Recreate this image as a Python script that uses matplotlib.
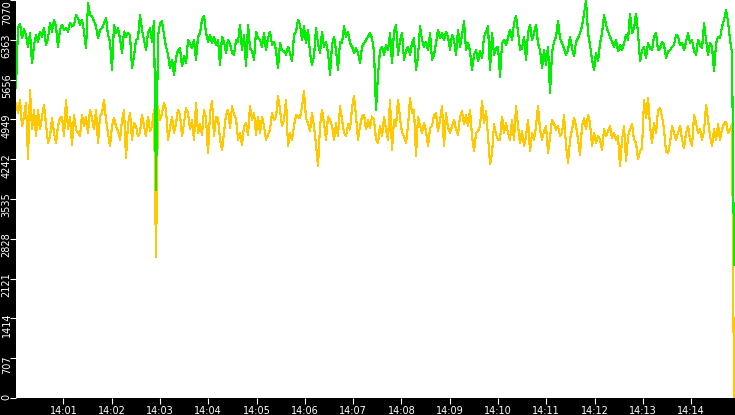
import matplotlib
matplotlib.use('Agg')
import matplotlib.pyplot as plt
import matplotlib.dates as mdates
import matplotlib.transforms as mtransforms
import pandas as pd

start_time = '2024-01-01 14:00:01.2'
end_time = '2024-01-01 14:14:53.2'
view_end = '2024-01-01 14:14:54.4'

green_values = [
    5500, 6570, 6650, 6390, 6550, 6450, 6240, 6480, 5950, 6270,
    6450, 6330, 6510, 6420, 6570, 6270, 6390, 6660, 6510, 6720,
    6600, 6240, 6540, 6630, 6540, 6570, 6510, 6660, 6600, 6630,
    6800, 6750, 6630, 6720, 6510, 6210, 7010, 6800, 6780, 6690,
    6600, 6390, 6540, 6570, 6660, 6750, 6450, 6330, 5830, 6630,
    6480, 6570, 6390, 6130, 6510, 6420, 6480, 6450, 5860, 6070,
    6360, 6390,
    6800, 6540, 6360, 6180, 6480, 6570, 6330, 6690, 3700, 6420,
    6660, 6690, 6450, 6240, 6100, 5860, 6010, 5740, 6040, 6180,
    6210, 5890, 6070, 5950, 6360, 6300, 6210, 6360, 6010, 6420,
    6480, 6720, 6780, 6480, 6330, 6450, 6300, 6420, 6270, 6360,
    5920, 6420, 6330, 6130, 6360, 6300, 6130, 6100, 6360, 6330,
    6630, 6180, 6450, 5890, 6630, 6210, 6160, 6010, 6510, 6390,
    6360, 6240, 6480, 6180, 6390, 6510, 6270, 6330, 6180, 5860,
    6300, 6180, 6160, 6100, 6240, 6130, 5980, 6450, 6510, 6720,
    6630, 6360, 6600, 6300, 6540, 6130, 5920, 6070, 6570, 6300,
    6130, 6510, 6240, 6330, 6130, 5740, 6270, 6420, 6180, 5830,
    6330, 6300, 6600, 6420, 6510, 6300, 6240, 6130, 6210, 6130,
    5950, 6240, 6300, 6360, 6420, 6480, 6390, 6160, 5120, 5740,
    6180, 6240, 6100, 6270, 6180, 6480, 5950, 6510, 6630, 6100,
    6360, 6480, 6010, 6160, 6240, 6100, 6300, 6390, 5830, 6070,
    6600, 6360, 6240, 6330, 6180, 6480, 6010, 6100, 6300, 6540,
    6390, 6480, 6360, 6510, 6420, 6180, 6450, 6360, 6100, 6540,
    6240, 6450, 6690, 6180, 6300, 6160, 5830, 6100, 6180, 5980,
    6160, 6040, 6420, 6510, 6600, 5830, 6480, 6100, 6210, 6240,
    5710, 6300, 6360, 6270, 6390, 6540, 6360, 6660, 6780, 6510,
    6180, 6210, 6420, 6010, 6480, 6630, 6360, 6480, 6630, 6300,
    6180, 5860, 6180, 5920, 6240, 5420, 6130, 6330, 6420, 6690,
    6390, 6300, 6210, 6100, 6180, 6420, 6210, 6070, 6330, 6390,
    6480, 6600, 6830, 7060, 6480, 6270, 6010, 5830, 6130, 5980,
    6300, 6480, 6800, 6630, 6510, 6420, 6330, 6240, 6360, 6160,
    6270, 6180, 6300, 6450, 6360, 6830, 6480, 6570, 6830, 6480,
    5980, 6180, 6240, 6040, 6300, 6210, 6180, 6420, 6480, 6180,
    6210, 6330, 6270, 6040, 6160, 6180, 6240, 6270, 6450, 6420,
    6270, 6300, 6180, 6330, 6480, 6300, 6360, 6160, 6100, 6360,
    6270, 6210, 6660, 6360, 6100, 6300, 6240, 5800, 6300, 6420,
    6390, 6600, 6720, 6890, 6690, 6360, 6130, 2370,
]

yellow_values = [
    5240, 5060, 5300, 4830, 5000, 5240, 4250, 5480, 4770, 5120,
    4650, 5120, 4770, 5000, 5210, 4860, 4530, 4650, 4970, 4710,
    4530, 4830, 4970, 5000, 4650, 5300, 4770, 5000, 4500, 5030,
    4770, 4710, 4650, 5030, 4830, 5000, 4710, 5120, 4970, 4770,
    5120, 4530, 5000, 5060, 5300, 4940, 4710, 4470, 4830, 4970,
    4830, 4740, 4590, 4940, 5120, 4260, 4860, 5060, 4590, 4880,
    4830, 4650,
    4710, 5030, 4830, 4650, 5000, 4740, 4830, 5120, 2500, 5180,
    4940, 5060, 5240, 5120, 4590, 4800, 5000, 4710, 4880, 5120,
    5030, 4650, 4880, 5150, 5060, 4770, 4940, 4590, 5240, 4710,
    4860, 4680, 5120, 4970, 4350, 5060, 5270, 4650, 5000, 4970,
    4590, 4410, 4710, 5030, 5120, 4800, 5180, 5030, 4970, 4590,
    4710, 4500, 4830, 4880, 4680, 5180, 4940, 5060, 4680, 5000,
    4710, 5000, 4830, 4590, 4680, 4770, 5060, 4940, 5000, 5360,
    5120, 4830, 4940, 5300, 4470, 4710, 4590, 4830, 5030, 5000,
    4970, 5180, 5450, 4970, 4880, 4740, 5060, 4830, 4500, 4120,
    4830, 5120, 4880, 4590, 5000, 4940, 4830, 4590, 4880, 4650,
    5180, 4940, 4710, 4650, 4860, 4770, 5150, 5360, 5000, 4590,
    4830, 5000, 5030, 4770, 4940, 4800, 5000, 4940, 4590, 4530,
    4830, 4650, 5000, 4770, 4590, 5300, 4410, 4940, 4830, 5300,
    4970, 4710, 4650, 4530, 4830, 5330, 5060, 5120, 4290, 5000,
    4830, 4710, 4880, 4740, 4470, 4800, 4830, 5030, 5060, 4740,
    4940, 5180, 4470, 5060, 4800, 4710, 4830, 4940, 4770, 4680,
    5000, 5090, 4860, 5030, 4830, 5120, 4650, 4380, 4710, 4740,
    4830, 5270, 4880, 5090, 4650, 4150, 4350, 4860, 4680, 4590,
    4590, 5000, 4710, 4880, 4710, 4590, 4940, 4590, 5180, 4830,
    4530, 4740, 4470, 4650, 4940, 4380, 4710, 4590, 4830, 5180,
    4770, 4590, 4740, 4830, 4350, 4650, 4940, 4880, 4770, 4830,
    4650, 4710, 5030, 4470, 4180, 4590, 4770, 4970, 4830, 4590,
    4320, 4830, 4970, 4770, 5030, 4880, 4470, 4710, 4530, 4650,
    4590, 4410, 4770, 4650, 4740, 4830, 4620, 4710, 4590, 4650,
    4120, 4590, 4830, 4210, 4650, 4770, 4860, 4590, 4530, 4240,
    4380, 4440, 5300, 4970, 5330, 4830, 4530, 4880, 4710, 5120,
    5150, 5000, 4770, 4380, 4350, 4530, 4830, 4710, 4590, 4710,
    4830, 4590, 4440, 4710, 4830, 4590, 4470, 5030, 4880, 4710,
    4770, 4590, 4740, 5210, 4940, 4650, 4470, 4770, 4590, 4860,
    4590, 4770, 4880, 4910, 4710, 4770, 4860, 0,
]

y_ticks = [0, 707, 1414, 2121, 2828, 3535, 4242, 4949, 5656, 6363, 7070]
y_labels = [str(v) for v in y_ticks]

times = pd.date_range(start_time, end_time, periods=len(green_values))

W, H = 735, 415
fig = plt.figure(figsize=(W / 100, H / 100), dpi=100, facecolor='black')
ax = fig.add_axes([16 / W, 17 / H, 719 / W, 398 / H])
ax.set_facecolor('white')

ax.plot(times, yellow_values, color='#ffc800', lw=0.8, antialiased=False, zorder=2)
ax.plot(times, green_values, color='#00ee00', lw=0.8, antialiased=False, zorder=3)

ax.set_ylim(0, 7070)
ax.set_xlim(pd.Timestamp(start_time), pd.Timestamp(view_end))

for s in ax.spines.values():
    s.set_visible(False)

ax.xaxis.set_major_locator(mdates.MinuteLocator())
ax.xaxis.set_major_formatter(mdates.DateFormatter('%H:%M'))
ax.tick_params(axis='x', colors='white', direction='out', length=4, width=0.8,
               labelsize=7, pad=1.5, labelcolor='white')
ax.set_yticks(y_ticks)
ax.tick_params(axis='y', colors='white', direction='out', length=4, width=0.8,
               labelleft=False)

# rotated y labels placed in the black margin
offsets_px = {0: -1.0, 7070: 13.0}
for v, lab in zip(y_ticks, y_labels):
    off = offsets_px.get(v, 6.0)
    tr = mtransforms.blended_transform_factory(fig.transFigure, ax.transData) + \
        mtransforms.ScaledTranslation(0, -off / 100, fig.dpi_scale_trans)
    fig.text(6.7 / W, v, lab, transform=tr, rotation=90, ha='center', va='center',
             color='white', fontsize=7)

fig.savefig('out.png', dpi=100, facecolor='black')
